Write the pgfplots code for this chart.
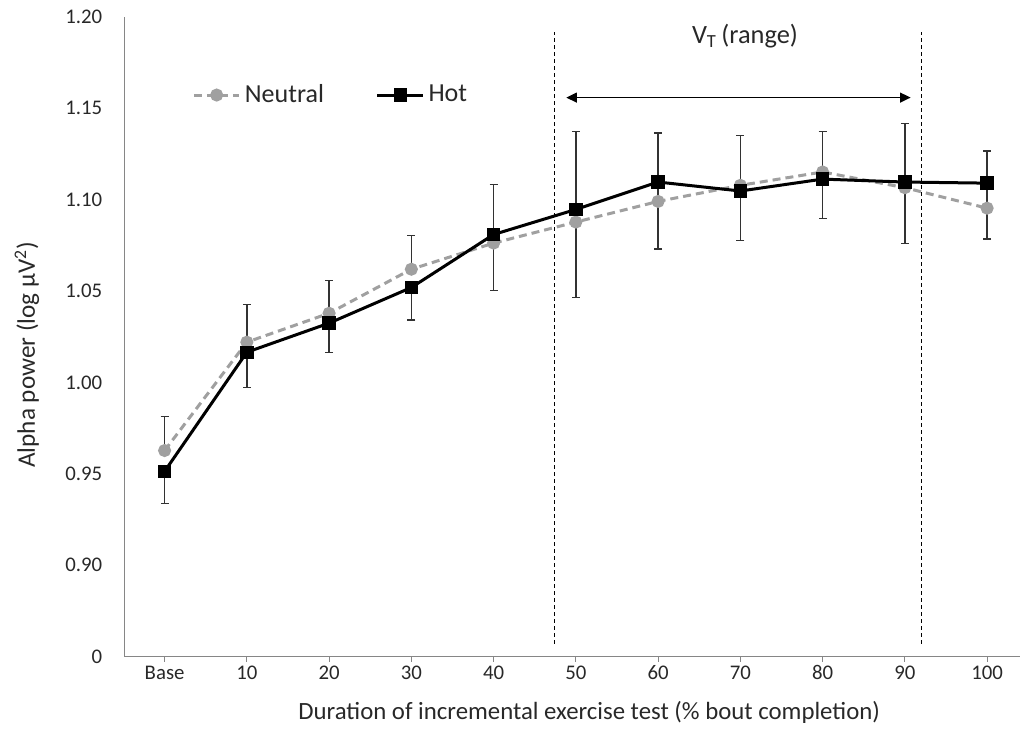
\documentclass[border=0pt]{standalone}
\usepackage{fontspec}
\setmainfont{Carlito}
\usepackage{pgfplots}
\pgfplotsset{compat=1.18}
\usetikzlibrary{arrows.meta}
\definecolor{ngray}{RGB}{160,160,160}
\definecolor{axgray}{RGB}{134,134,134}
\definecolor{txt}{RGB}{40,40,40}
\definecolor{ebar}{RGB}{50,50,50}
\begin{document}
\begin{tikzpicture}
\begin{axis}[
  scale only axis, width=447.85pt, height=319.85pt,
  at={(0,0)}, anchor=south west,
  xmin=-0.49, xmax=10.4, ymin=0.85, ymax=1.20,
  separate axis lines,
  axis x line=bottom, axis y line=left,
  axis line style={axgray, line width=0.6pt, -},
  every outer x axis line/.append style={-},
  every outer y axis line/.append style={-},
  xtick={0,1,2,3,4,5,6,7,8,9,10},
  xticklabels={Base,10,20,30,40,50,60,70,80,90,100},
  ytick={0.85,0.90,0.95,1.00,1.05,1.10,1.15,1.20},
  yticklabels={0,0.90,0.95,1.00,1.05,1.10,1.15,1.20},
  /pgf/number format/assume math mode=true,
  tick align=outside, major tick length=2.5pt,
  xtick style={axgray, line width=0.6pt},
  ytick style={draw=none},
  x tick label style={font=\fontsize{10.4}{12}\selectfont, text=txt, yshift=1.5pt},
  y tick label style={font=\fontsize{10.4}{12}\selectfont, text=txt, xshift=-5pt},
  xlabel={Duration of incremental exercise test (\% bout completion)},
  xlabel style={at={(axis description cs:0.519,-0.0864)}, anchor=center, font=\fontsize{12.4}{14}\selectfont, text=txt},
  ylabel={Alpha power (log μV\textsuperscript{2})},
  ylabel style={at={(axis description cs:-0.1086,0.472)}, anchor=center, font=\fontsize{12.6}{14}\selectfont, text=txt},
  legend columns=2,
  legend style={draw=none, fill=none, at={(0.0756,0.878)}, anchor=west, inner sep=0pt,
    font=\fontsize{13}{15}\selectfont, text=txt,
    /tikz/every even column/.append style={column sep=24pt}},
  legend cell align=left,
  legend image code/.code={\draw[mark repeat=2,mark phase=2] plot coordinates {(0cm,0cm) (0.4cm,0cm) (0.8cm,0cm)};},
  clip=false,
]
\addplot[ngray, line width=1.5pt, dash pattern=on 4pt off 2.5pt,
  mark=*, mark size=2.5pt, mark options={solid, fill=ngray, draw=ngray},
  error bars/.cd, y dir=plus, y explicit, error mark=-,
  error bar style={ebar, line width=0.7pt, solid},
  error mark options={ebar, line width=0.7pt, mark size=2pt, solid, rotate=90}]
coordinates {
(0,0.9628) +- (0,0.0186)
(1,1.0221) +- (0,0.0206)
(2,1.0379) +- (0,0.0178)
(3,1.0620) +- (0,0.0185)
(4,1.0763) +- (0,0.0321)
(5,1.0878) +- (0,0.0496)
(6,1.0991) +- (0,0.0374)
(7,1.1079) +- (0,0.0274)
(8,1.1152) +- (0,0.0222)
(9,1.1066) +- (0,0.0352)
(10,1.0954) +- (0,0.0313)
};
\addlegendentry{Neutral}
\addplot[black, line width=1.5pt,
  mark=square*, mark size=2.6pt, mark options={solid, fill=black},
  error bars/.cd, y dir=minus, y explicit, error mark=-,
  error bar style={ebar, line width=0.7pt, solid},
  error mark options={ebar, line width=0.7pt, mark size=2pt, solid, rotate=90}]
coordinates {
(0,0.9514) +- (0,0.0175)
(1,1.0166) +- (0,0.0192)
(2,1.0325) +- (0,0.0162)
(3,1.0520) +- (0,0.0177)
(4,1.0810) +- (0,0.0306)
(5,1.0947) +- (0,0.0482)
(6,1.1097) +- (0,0.0367)
(7,1.1048) +- (0,0.0272)
(8,1.1113) +- (0,0.0215)
(9,1.1097) +- (0,0.0337)
(10,1.1091) +- (0,0.0306)
};
\addlegendentry{Hot}
\draw[black, line width=0.5pt, dash pattern=on 2pt off 1.5pt] (axis cs:4.742,0.857) -- (axis cs:4.742,1.192);
\draw[black, line width=0.5pt, dash pattern=on 2pt off 1.5pt] (axis cs:9.2,0.857) -- (axis cs:9.2,1.192);
\draw[black, line width=0.65pt, {Triangle[length=5.3pt,width=5pt]}-{Triangle[length=5.3pt,width=5pt]}] (axis cs:4.884,1.1559) -- (axis cs:9.07,1.1559);
\node[anchor=base, font=\fontsize{13.2}{15}\selectfont, text=txt] at (axis cs:7.056,1.1855) {V\textsubscript{T}\,(range)};
\end{axis}
\pgfresetboundingbox
\path[use as bounding box] (-62.15pt,-35.65pt) rectangle (447.85pt,328.35pt);
\end{tikzpicture}
\end{document}
